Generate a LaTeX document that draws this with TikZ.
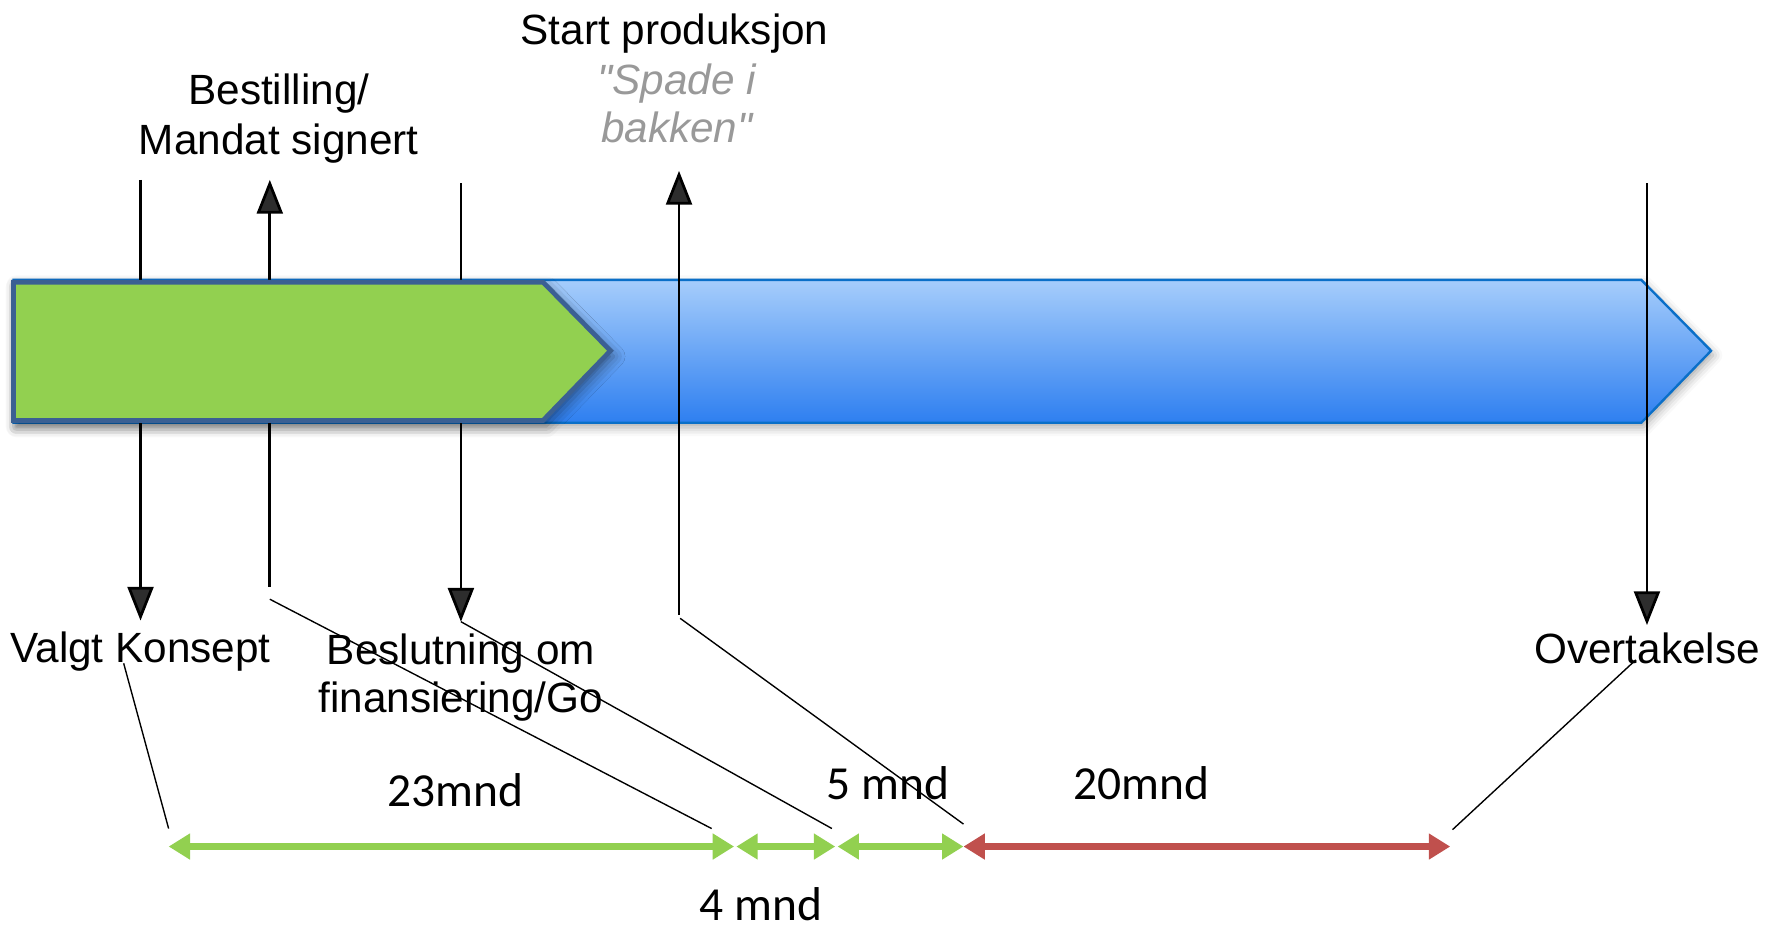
\documentclass[tikz,border=0pt]{standalone}
\usepackage{fontspec}
\setmainfont{Liberation Sans}
\newfontfamily\qfont{Liberation Sans}[Ligatures=TeXOff]
\newfontfamily\calib{Carlito}
\usetikzlibrary{arrows.meta,shadows.blur}
\definecolor{barblue}{HTML}{0A6FC8}
\definecolor{bartop}{HTML}{A6CDFB}
\definecolor{barbot}{HTML}{2E7FF0}
\definecolor{boxgreen}{HTML}{92D050}
\definecolor{boxedge}{HTML}{3B6093}
\definecolor{spanred}{HTML}{C0504D}
\definecolor{quotegray}{HTML}{999999}
\begin{document}
\begin{tikzpicture}[x=0.01cm,y=-0.01cm,
  lbl/.style={inner sep=0pt,anchor=base,font=\fontsize{10.7pt}{12pt}\selectfont},
  qlbl/.style={lbl,font=\qfont\fontsize{10.7pt}{12pt}\selectfont\itshape,text=quotegray},
  num/.style={inner sep=0pt,anchor=base,font=\calib\fontsize{12pt}{13pt}\selectfont},
  markline/.style={line width=0.7pt,-{Triangle[length=0.3cm,width=0.23cm]}},
  leader/.style={line width=0.35pt},
  greenspan/.style={line width=2pt,draw=boxgreen,{Triangle[length=0.19cm,width=0.22cm]}-{Triangle[length=0.19cm,width=0.22cm]}},
  redspan/.style={line width=2pt,draw=spanred,{Triangle[length=0.19cm,width=0.22cm]}-{Triangle[length=0.19cm,width=0.22cm]}}
]
\useasboundingbox (0,0) rectangle (1570,827);

% blue bar
\path[blur shadow={shadow xshift=0.02cm,shadow yshift=-0.04cm,shadow blur radius=0.08cm,shadow opacity=35},
  top color=bartop,bottom color=barbot,draw=barblue,line width=0.6pt]
  (12,249) -- (1460,249) -- (1522,312) -- (1460,376) -- (12,376) -- cycle;

% coordinates for the markers
\coordinate (m1t) at (125,160); \coordinate (m1b) at (125,552);
\coordinate (m2t) at (240,160); \coordinate (m2b) at (240,522);
\coordinate (m3t) at (410,163); \coordinate (m3b) at (410,553);
\coordinate (m4t) at (604,152); \coordinate (m4b) at (604,547);
\coordinate (m5t) at (1465,163); \coordinate (m5b) at (1465,556);

\draw[markline] (m1t) -- (m1b);
\draw[markline] (m2b) -- (m2t);
\draw[markline] (m3t) -- (m3b);
\draw[markline] (m4b) -- (m4t);
\draw[markline] (m5t) -- (m5b);

% green box
\path[blur shadow={shadow xshift=0.03cm,shadow yshift=-0.05cm,shadow blur radius=0.1cm,shadow opacity=45},
  fill=boxgreen,draw=boxedge,line width=1.2pt,line join=miter]
  (12,251) -- (483,251) -- (543,312) -- (483,374) -- (12,374) -- cycle;

% labels
\node[lbl] (best1) at (248,93) {Bestilling/};
\node[lbl] (best2) at (248,137) {Mandat signert};
\node[lbl] (start) at (600,40) {Start produksjon};
\node[qlbl] (spade1) at (602,84) {"Spade i};
\node[qlbl] (spade2) at (602,127) {bakken"};
\node[lbl] (valgt) at (125,589) {Valgt Konsept};
\node[lbl] (besl1) at (410,591) {Beslutning om};
\node[lbl] (besl2) at (410,634) {finansiering/Go};
\node[lbl] (over) at (1465,590) {Overtakelse};

% span coordinates
\coordinate (s0) at (150,753);
\coordinate (s1a) at (653,753); \coordinate (s1b) at (655,753);
\coordinate (s2a) at (743,753); \coordinate (s2b) at (745,753);
\coordinate (s3) at (857,753);
\coordinate (s4) at (1290,753);

\draw[greenspan] (s0) -- (s1a);
\draw[greenspan] (s1b) -- (s2a);
\draw[greenspan] (s2b) -- (s3);
\draw[redspan] (s3) -- (s4);

% leader lines
\coordinate (d1a) at (110,590); \coordinate (d1b) at (150,737);
\coordinate (d2a) at (240,533); \coordinate (d2b) at (633,737);
\coordinate (d3a) at (410,553); \coordinate (d3b) at (740,737);
\coordinate (d4a) at (605,550); \coordinate (d4b) at (857,733);
\coordinate (d5a) at (1455,587); \coordinate (d5b) at (1292,738);
\draw[leader] (d1a) -- (d1b);
\draw[leader] (d2a) -- (d2b);
\draw[leader] (d3a) -- (d3b);
\draw[leader] (d4a) -- (d4b);
\draw[leader] (d5a) -- (d5b);

% durations
\node[num] (n23) at (405,717) {23mnd};
\node[num] (n5) at (790,711) {5 mnd};
\node[num] (n20) at (1015,711) {20mnd};
\node[num] (n4) at (677,819) {4 mnd};
\end{tikzpicture}
\end{document}
